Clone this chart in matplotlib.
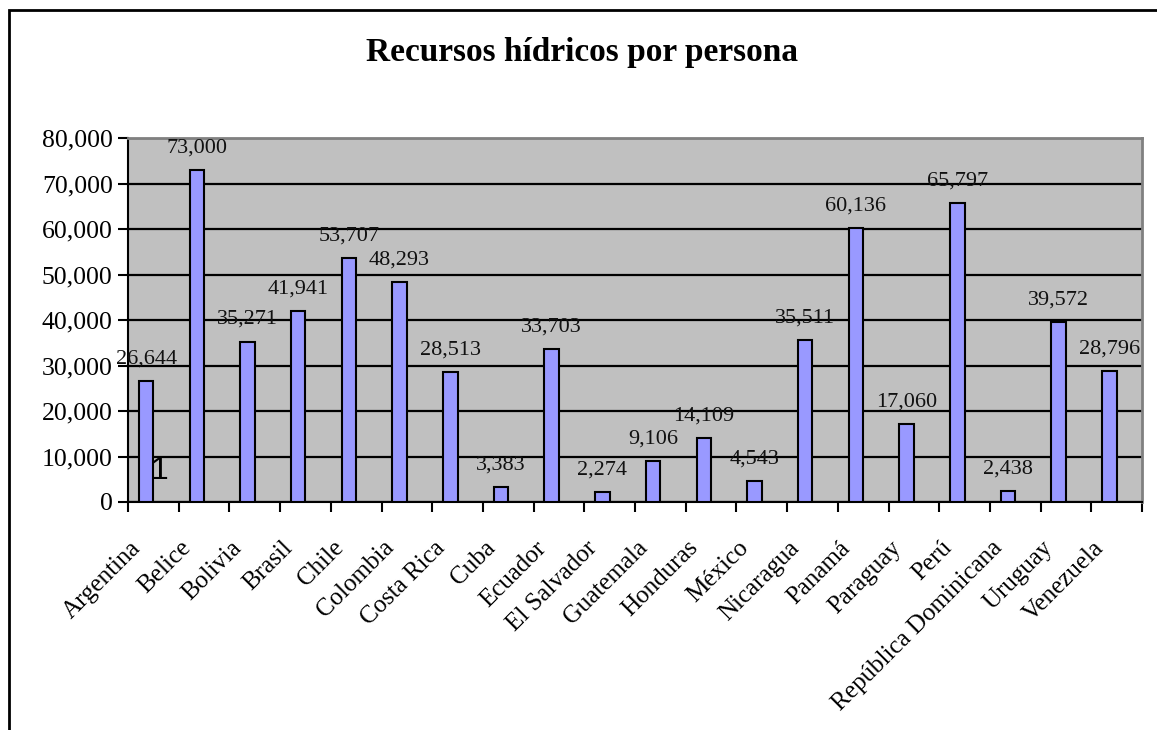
import matplotlib.pyplot as plt
import matplotlib.patches as patches
import matplotlib.transforms as mtransforms
from matplotlib.ticker import FuncFormatter, FixedLocator

plt.rcParams['font.family'] = ['Liberation Serif', 'DejaVu Serif']

# data
paises = ['Argentina', 'Belice', 'Bolivia', 'Brasil', 'Chile', 'Colombia',
          'Costa Rica', 'Cuba', 'Ecuador', 'El Salvador', 'Guatemala',
          'Honduras', 'México', 'Nicaragua', 'Panamá', 'Paraguay', 'Perú',
          'República Dominicana', 'Uruguay', 'Venezuela']
recursos = [26644, 73000, 35271, 41941, 53707, 48293, 28513, 3383, 33703,
            2274, 9106, 14109, 4543, 35511, 60136, 17060, 65797, 2438,
            39572, 28796]
titulo = 'Recursos hídricos por persona'

fig = plt.figure(figsize=(11.57, 7.30), dpi=100)
ax = fig.add_axes([128/1157, 1 - 502/730, (1142 - 128)/1157, (502 - 138)/730])

# excel style: bar uses first of two slots, gap width 150
n = len(paises)
w = 1 / 3.5
xs = [i - w / 2 for i in range(n)]
bars = ax.bar(xs, recursos, width=w, color='#9999FF', edgecolor='black',
              linewidth=1.5, zorder=3)

for x, v in zip(xs, recursos):
    ax.annotate(f'{v:,}', (x, v), xytext=(0, 9), textcoords='offset points',
                ha='center', va='bottom', fontsize=16, color='#111111', zorder=4)

# stray label in the original
ax.text(0.13, 6800, '1', fontsize=23, family='Liberation Sans', ha='center',
        va='center', zorder=4)

ax.set_facecolor('#C0C0C0')
ax.set_xlim(-0.5, n - 0.5)
ax.set_ylim(0, 80000)
ax.set_yticks(range(0, 80001, 10000))
ax.yaxis.set_major_formatter(FuncFormatter(lambda v, p: f'{int(v):,}'))
ax.grid(axis='y', color='black', linewidth=1.6, zorder=1)
ax.tick_params(axis='y', labelsize=18.5, length=7, width=1.5, pad=4)

ax.xaxis.set_major_locator(FixedLocator([i - 0.5 for i in range(n + 1)]))
ax.xaxis.set_minor_locator(FixedLocator(list(range(n))))
ax.set_xticklabels([])
ax.set_xticklabels(paises, minor=True, rotation=45, ha='right',
                   rotation_mode='anchor', fontsize=18)
ax.tick_params(axis='x', which='major', length=7, width=1.5)
ax.tick_params(axis='x', which='minor', length=0, pad=25)
shift = mtransforms.ScaledTranslation(-24/100, 0, fig.dpi_scale_trans)
for lbl in ax.get_xticklabels(minor=True):
    lbl.set_transform(lbl.get_transform() + shift)

for s in ['top', 'right']:
    ax.spines[s].set_color('#808080')
    ax.spines[s].set_linewidth(2)
for s in ['left', 'bottom']:
    ax.spines[s].set_color('black')
    ax.spines[s].set_linewidth(1.5)

fig.text(582/1157, 1 - 61/730, titulo, ha='center', va='baseline',
         fontsize=24, fontweight='bold')

# chart frame
fig.patches.append(patches.Rectangle((9/1157, -0.1), 1.2, 1.1 - 10/730,
                                     transform=fig.transFigure, fill=False,
                                     edgecolor='black', linewidth=2))

fig.savefig('out.png', dpi=100)
